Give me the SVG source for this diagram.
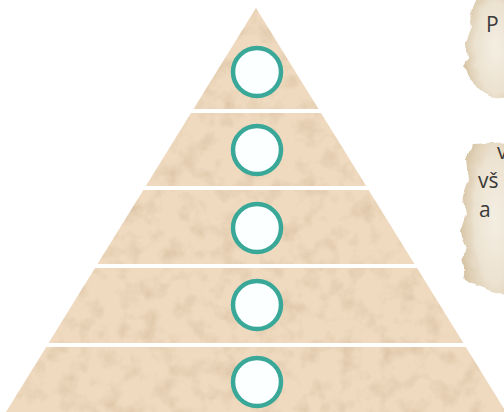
<svg xmlns="http://www.w3.org/2000/svg" width="504" height="412" viewBox="0 0 504 412">
<defs>
<style>
.layer{fill:#efdabf;filter:url(#sand)}
.ring{fill:#fbffff;stroke:#3aa898;stroke-width:4.5}
.parch{fill:url(#pg);filter:url(#rough)}
.txt{font-family:"Open Sans","Liberation Sans",sans-serif;font-size:21px;fill:#3a3a3a}
</style>
<radialGradient id="pg" cx="0.7" cy="0.5" r="0.7">
<stop offset="0" stop-color="#f4eee3"/>
<stop offset="0.6" stop-color="#ece2d0"/>
<stop offset="1" stop-color="#d6c3a3"/>
</radialGradient>
<filter id="sand" x="0" y="0" width="1" height="1">
<feTurbulence type="fractalNoise" baseFrequency="0.05" numOctaves="4" seed="7" result="n"/>
<feColorMatrix in="n" type="matrix" values="0 0 0 0 0.70  0 0 0 0 0.53  0 0 0 0 0.36  0 0 0 -1.8 0.98" result="c"/>
<feComposite in="c" in2="SourceGraphic" operator="in" result="t"/>
<feMerge><feMergeNode in="SourceGraphic"/><feMergeNode in="t"/></feMerge>
</filter>
<filter id="rough" x="-0.1" y="-0.1" width="1.2" height="1.2">
<feTurbulence type="fractalNoise" baseFrequency="0.08" numOctaves="2" seed="2" result="n"/>
<feDisplacementMap in="SourceGraphic" in2="n" scale="6" xChannelSelector="R" yChannelSelector="G"/>
</filter>
</defs>
<rect width="504" height="412" fill="#ffffff"/>
<g id="parchment-1">
<path class="parch" d="M478,-4 L510,-4 L510,100 L490,96 L478,88 L470,80 L462,66 L468,58 L466,44 L472,30 L470,14 Z"/>
<text class="txt" x="486" y="32">P</text>
</g>
<g id="parchment-2">
<path class="parch" d="M472,144 L510,142 L510,296 L494,292 L478,286 L466,280 L462,262 L466,246 L460,232 L466,214 L462,196 L468,178 L466,160 Z"/>
<text class="txt" x="497" y="159">v</text>
<text class="txt" x="478" y="188">vš</text>
<text class="txt" x="479" y="217">a</text>
</g>
<g id="layer-1">
<polygon class="layer" points="256,8 318.5,109 193.5,109"/>
<circle class="ring" cx="257" cy="72" r="24"/>
</g>
<g id="layer-2">
<polygon class="layer" points="191,113 321,113 366.2,186 145.8,186"/>
<circle class="ring" cx="257" cy="150" r="24"/>
</g>
<g id="layer-3">
<polygon class="layer" points="143.4,190 368.6,190 414.5,264 97.5,264"/>
<circle class="ring" cx="257" cy="228" r="24"/>
</g>
<g id="layer-4">
<polygon class="layer" points="95,268 417,268 463.4,343 48.6,343"/>
<circle class="ring" cx="257" cy="305" r="24"/>
</g>
<g id="layer-5">
<polygon class="layer" points="46.2,347 465.8,347 506,412 6,412"/>
<circle class="ring" cx="257" cy="382" r="24"/>
</g>
<g id="connectors"/>
</svg>
